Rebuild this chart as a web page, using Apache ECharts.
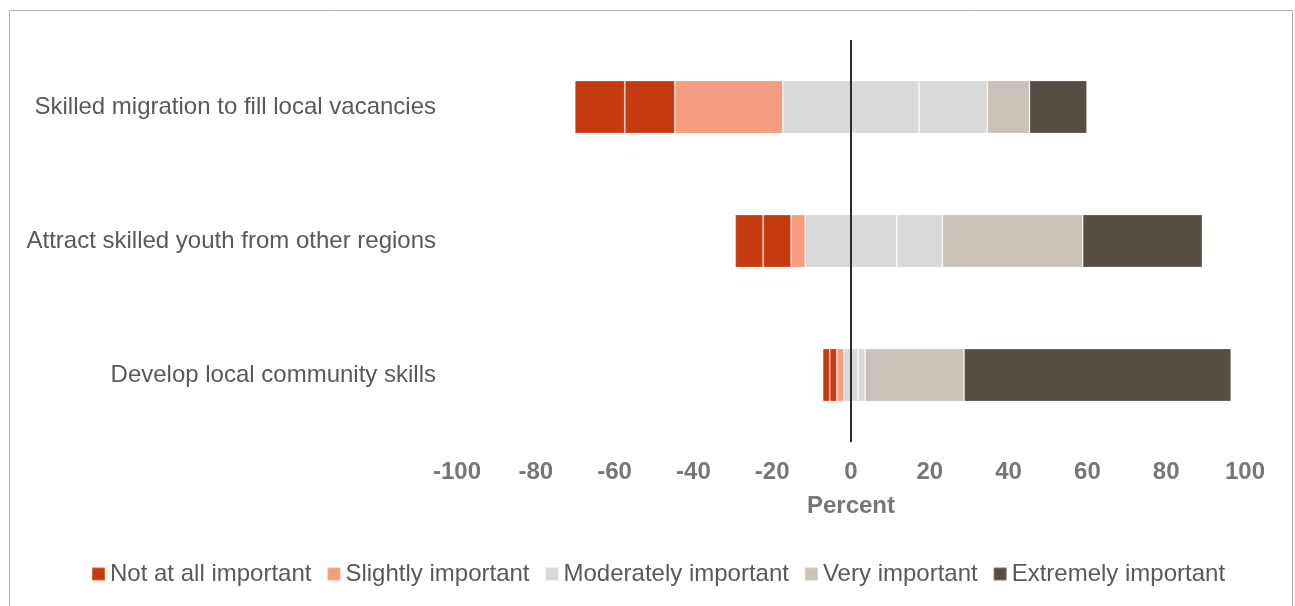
<!DOCTYPE html>
<html>
<head>
<meta charset="utf-8">
<script src="https://cdn.jsdelivr.net/npm/echarts@6/dist/echarts.min.js"></script>
<style>
  html, body { margin: 0; padding: 0; background: #ffffff; }
  #chart { width: 1295px; height: 606px; }
</style>
</head>
<body>
<div id="chart"></div>
<script>
// Survey response shares (percent) per strategy, top to bottom
const categories = [
  'Skilled migration to fill local vacancies',
  'Attract skilled youth from other regions',
  'Develop local community skills'
];
const notAtAll   = [12.7, 7.1, 1.8];
const slightly   = [27.4, 3.6, 1.8];
const moderately = [34.6, 23.2, 3.6];
const very       = [10.7, 35.6, 25.1];
const extremely  = [14.6, 30.4, 67.8];
const responseLevels = ['Not at all important', 'Slightly important', 'Moderately important', 'Very important', 'Extremely important'];
const xTicks = { min: -100, max: 100, step: 20 };

const colors = {
  'Not at all important': '#C63A10',
  'Slightly important': '#F59C81',
  'Moderately important': '#D9D9D9',
  'Very important': '#CAC2B8',
  'Extremely important': '#564E43'
};

const neg = arr => arr.map(v => -v);
const half = arr => arr.map(v => v / 2);

function seg(name, data, extra) {
  return Object.assign({
    name: name,
    type: 'bar',
    stack: 'diverging',
    barWidth: 53,
    data: data,
    itemStyle: { color: colors[name], borderColor: 'rgba(255,255,255,0.22)', borderWidth: 1 },
    emphasis: { disabled: true }
  }, extra || {});
}

// Negative side stacks outward from zero; positive side stacks rightward.
const series = [
  seg('Moderately important', neg(half(moderately)), {
    markLine: {
      silent: true,
      symbol: 'none',
      label: { show: false },
      lineStyle: { color: '#2a2a2a', width: 2, type: 'solid' },
      data: [{ xAxis: 0 }]
    }
  }),
  seg('Slightly important', neg(slightly)),
  seg('Not at all important', neg(notAtAll)),
  seg('Not at all important', neg(notAtAll)),
  seg('Moderately important', half(moderately)),
  seg('Moderately important', half(moderately)),
  seg('Very important', very),
  seg('Extremely important', extremely)
];

const chart = echarts.init(document.getElementById('chart'), null, { renderer: 'canvas' });
chart.setOption({
  animation: false,
  backgroundColor: '#ffffff',
  textStyle: { fontFamily: '"Liberation Sans", Arial, sans-serif' },
  graphic: [{
    type: 'rect',
    shape: { x: 9.5, y: 10.5, width: 1283, height: 640 },
    style: { fill: 'none', stroke: '#b4b4b4', lineWidth: 1 },
    silent: true
  }],
  grid: { left: 457, right: 50, top: 40, bottom: 164, containLabel: false },
  legend: {
    data: responseLevels,
    left: 91,
    top: 562,
    padding: 0,
    icon: 'rect',
    itemWidth: 13,
    itemHeight: 13,
    itemGap: 15,
    textStyle: { fontSize: 24, color: '#595959', fontFamily: '"Liberation Sans", Arial, sans-serif' }
  },
  xAxis: {
    type: 'value',
    min: xTicks.min,
    max: xTicks.max,
    interval: xTicks.step,
    name: 'Percent',
    nameLocation: 'middle',
    nameGap: 52,
    nameTextStyle: { fontSize: 24, fontWeight: 'bold', color: '#767676' },
    axisLine: { show: false },
    axisTick: { show: false },
    splitLine: { show: false },
    axisLabel: { fontSize: 24, fontWeight: 'bold', color: '#767676', margin: 18 }
  },
  yAxis: {
    type: 'category',
    data: categories,
    inverse: true,
    axisLine: { show: false },
    axisTick: { show: false },
    splitLine: { show: false },
    axisLabel: { fontSize: 24, color: '#595959', margin: 21 }
  },
  series: series
});
</script>
</body>
</html>
